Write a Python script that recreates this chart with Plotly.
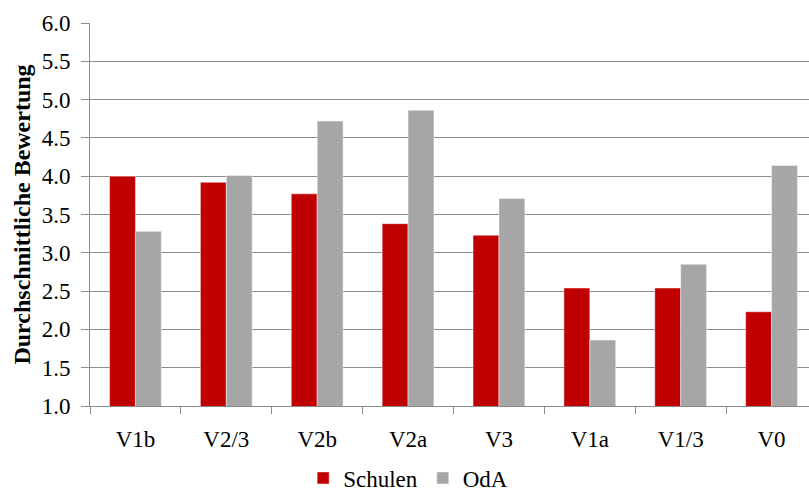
import plotly.graph_objects as go

# Kategorien und durchschnittliche Bewertungen
categories = ["V1b", "V2/3", "V2b", "V2a", "V3", "V1a", "V1/3", "V0"]
schulen = [4.00, 3.92, 3.77, 3.38, 3.23, 2.54, 2.54, 2.23]
oda = [3.28, 4.01, 4.72, 4.86, 3.71, 1.86, 2.85, 4.14]
y_ticks = [1.0, 1.5, 2.0, 2.5, 3.0, 3.5, 4.0, 4.5, 5.0, 5.5, 6.0]

FONT = "Liberation Serif, Times New Roman, serif"
FS = 23
RED = "#C00000"
GRAY = "#A6A6A6"
GRID = "#8C8C8C"

fig = go.Figure()
fig.add_trace(go.Bar(
    x=categories, y=schulen, name="Schulen",
    marker=dict(color=RED, line=dict(color="rgba(255,255,255,0.45)", width=1)),
))
fig.add_trace(go.Bar(
    x=categories, y=oda, name="OdA",
    marker=dict(color=GRAY, line=dict(color="rgba(255,255,255,0.45)", width=1)),
))

n = len(categories)
fig.update_layout(
    width=809, height=492,
    margin=dict(l=90, r=0, t=23, b=86, autoexpand=False),
    paper_bgcolor="white", plot_bgcolor="white",
    barmode="group", bargap=0.43, bargroupgap=0,
    font=dict(family=FONT, size=FS, color="black"),
    showlegend=True,
    legend=dict(orientation="h", x=0.4425, xanchor="center", y=-0.188, yanchor="middle",
                font=dict(family=FONT, size=FS), itemwidth=30,
                traceorder="normal"),
    xaxis=dict(
        range=[-0.5, n - 0.5 - 8 / 90.9],
        showline=True, linecolor=GRID, linewidth=1,
        ticks="outside", tickson="boundaries", ticklen=7, tickcolor=GRID,
        tickfont=dict(family=FONT, size=FS),
        ticklabelstandoff=12,
        showgrid=False, zeroline=False,
    ),
    yaxis=dict(
        range=[1, 6], tickvals=y_ticks, tickformat=".1f",
        showline=True, linecolor=GRID, linewidth=1,
        ticks="outside", ticklen=8, tickcolor=GRID,
        showgrid=True, gridcolor=GRID, gridwidth=1,
        zeroline=False,
        tickfont=dict(family=FONT, size=FS),
        ticklabelstandoff=6,
        title=dict(text="<b>Durchschnittliche Bewertung</b>",
                   font=dict(family=FONT, size=24), standoff=4),
    ),
)

fig.write_html("out.html")
